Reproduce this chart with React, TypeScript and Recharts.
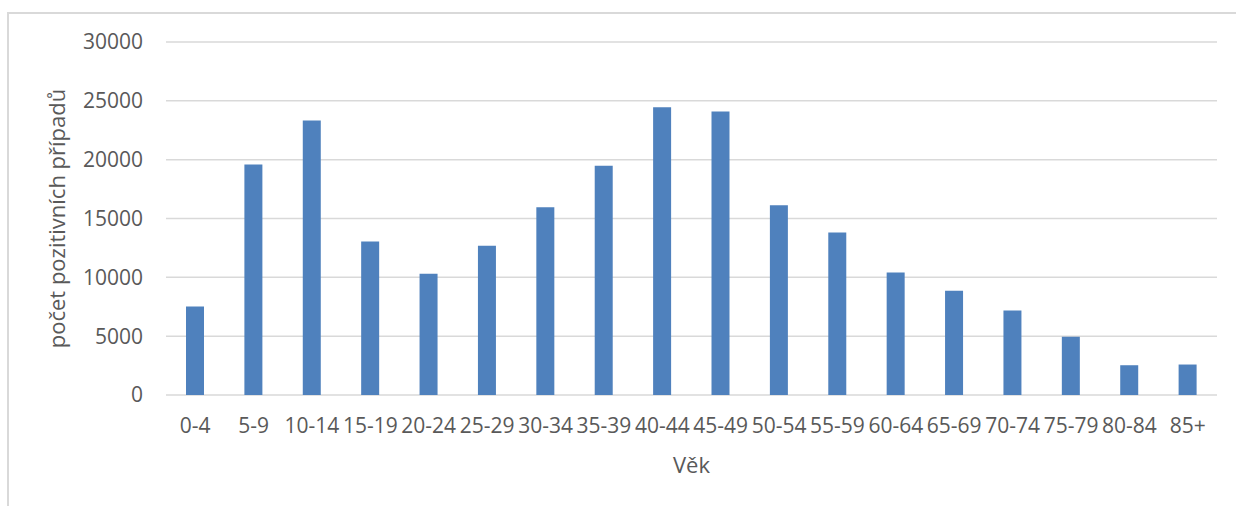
import { BarChart, Bar, XAxis, YAxis, CartesianGrid } from 'recharts';

// věkové skupiny a počty pozitivních případů
const ageGroups = [
  '0-4', '5-9', '10-14', '15-19', '20-24', '25-29', '30-34', '35-39', '40-44',
  '45-49', '50-54', '55-59', '60-64', '65-69', '70-74', '75-79', '80-84', '85+',
];
const positiveCases = [
  7520, 19590, 23330, 13050, 10300, 12680, 15960, 19480, 24460,
  24100, 16130, 13810, 10410, 8860, 7180, 4950, 2530, 2590,
];
const yTicks = [0, 5000, 10000, 15000, 20000, 25000, 30000];

const data = ageGroups.map((name, i) => ({ name, value: positiveCases[i] }));

const font = '"Open Sans", sans-serif';
const textColor = '#595959';

export default function App() {
  return (
    <div style={{ position: 'absolute', left: 0, top: 0, width: 1236, height: 506, background: '#fff', fontFamily: font }}>
      <div
        style={{
          position: 'absolute',
          left: 7,
          top: 12,
          width: 1229,
          height: 494,
          borderTop: '2px solid #d9d9d9',
          borderLeft: '2px solid #d9d9d9',
        }}
      />
      <div style={{ position: 'absolute', left: 0, top: 0 }}>
        <BarChart
          width={1236}
          height={506}
          data={data}
          margin={{ top: 42, right: 19, bottom: 0, left: 0 }}
          barSize={18}
        >
          <CartesianGrid vertical={false} stroke="#d9d9d9" strokeWidth={1.5} />
          <XAxis
            dataKey="name"
            height={111}
            axisLine={false}
            tickLine={false}
            tickSize={0}
            tickMargin={23}
            interval={0}
            tick={{ fill: textColor, fontSize: 21, fontFamily: font }}
            label={{
              value: 'Věk',
              position: 'insideBottom',
              offset: 33,
              fill: textColor,
              fontSize: 22,
              fontFamily: font,
            }}
          />
          <YAxis
            width={166}
            domain={[0, 30000]}
            ticks={yTicks}
            axisLine={false}
            tickLine={false}
            tickSize={0}
            tickMargin={23}
            tick={{ fill: textColor, fontSize: 21, fontFamily: font }}
            label={{
              value: 'počet pozitivních případů',
              angle: -90,
              position: 'insideLeft',
              offset: 57,
              fill: textColor,
              fontSize: 22,
              fontFamily: font,
              style: { textAnchor: 'middle' },
            }}
          />
          <Bar dataKey="value" fill="#4f81bd" isAnimationActive={false} />
        </BarChart>
      </div>
    </div>
  );
}
